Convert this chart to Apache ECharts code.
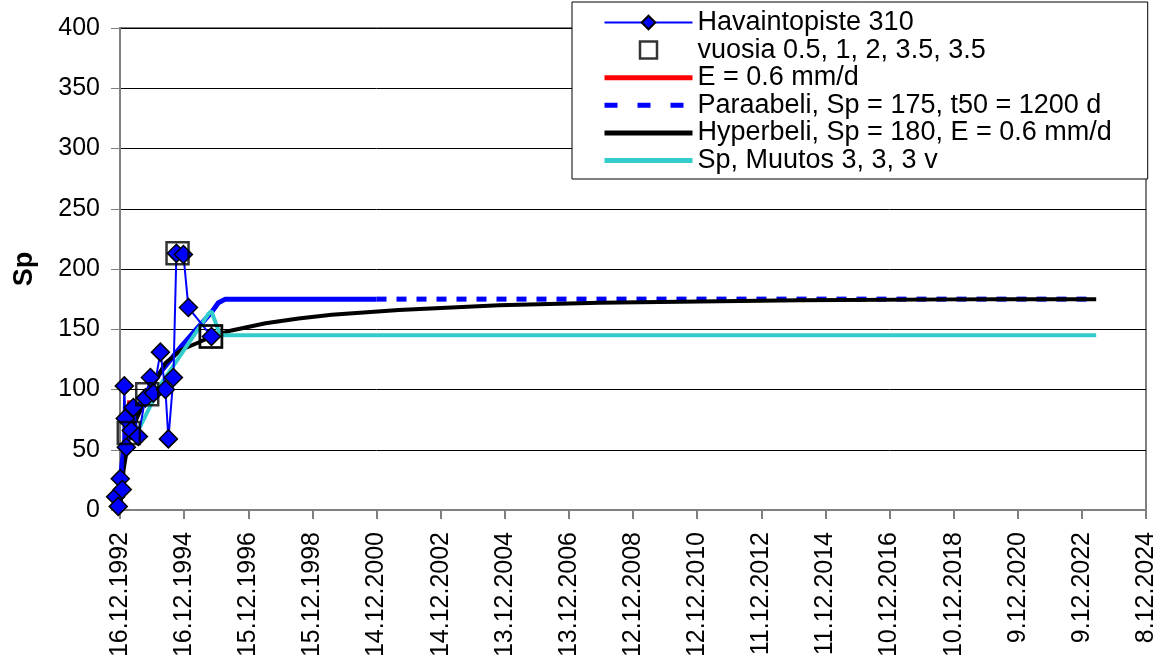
<!DOCTYPE html>
<html>
<head>
<meta charset="utf-8">
<script src="https://cdn.jsdelivr.net/npm/echarts@6/dist/echarts.min.js"></script>
<style>html,body{margin:0;padding:0;background:#fff}#c{width:1160px;height:666px}</style>
</head>
<body>
<div id="c"></div>
<script>
// x values are days after 16.12.1992
var tickLabels = ['16.12.1992','16.12.1994','15.12.1996','15.12.1998','14.12.2000','14.12.2002','13.12.2004','13.12.2006','12.12.2008','12.12.2010','11.12.2012','11.12.2014','10.12.2016','10.12.2018','9.12.2020','9.12.2022','8.12.2024'];
var yTicks = [0,50,100,150,200,250,300,350,400];

var obsDays   = [-50, -20, 3, 26, 49, 60, 72, 129, 152, 209, 289, 346, 380, 460, 517, 551, 608, 642, 722, 779, 1041];
var obsValues = [11, 3, 26, 17, 103, 76, 52, 66, 85, 61, 93, 110, 97, 131, 100, 59, 110, 213, 212, 168, 144];

var sqDays   = [100, 310, 655, 1035, 1035];
var sqValues = [64, 96, 213, 144, 144];

var eDays   = [0, 26, 106];
var eValues = [0, 37, 91];

var parDays   = [0, 10, 50, 130, 300, 500, 700, 893, 1041, 1120, 1200, 2920, 11113];
var parValues = [0, 30, 55, 75, 98, 118, 136, 152, 164, 172, 175, 175, 175];

var hypDays   = [0, 40, 100, 190, 323, 517, 700, 893, 1041, 1270, 1657, 2033, 2410, 3174, 4315, 5456, 7737, 10018, 11113];
var hypValues = [0, 33, 60, 76, 97, 122, 133, 139, 144, 149, 155, 159, 162, 166, 170, 172, 174, 175, 175];

var cyDays   = [180, 472, 1009, 1041, 1140, 11113];
var cyValues = [62, 105, 163, 165, 145, 145];

var dashStart = 2920;

function zip(a, b) { return a.map(function (v, i) { return [v, b[i]]; }); }
var parAll = zip(parDays, parValues);
var parSolid = parAll.filter(function (p) { return p[0] <= dashStart; });
var parDashed = parAll.filter(function (p) { return p[0] >= dashStart; });

var FONT = 'Liberation Sans, Arial, sans-serif';
var NAMES = ['Havaintopiste 310', 'vuosia 0.5, 1, 2, 3.5, 3.5', 'E = 0.6 mm/d', 'Paraabeli, Sp = 175, t50 = 1200 d', 'Hyperbeli, Sp = 180, E = 0.6 mm/d', 'Sp, Muutos 3, 3, 3 v'];
var SQUARE = 'path://M0,0L10,0L10,10L0,10Z';

var chart = echarts.init(document.getElementById('c'), null, {renderer: 'canvas'});
chart.setOption({
  animation: false,
  backgroundColor: '#fff',
  grid: {left: 120, right: 14, top: 28, bottom: 156, show: true, borderColor: '#808080', borderWidth: 2, backgroundColor: 'transparent'},
  xAxis: {
    type: 'value', min: 0, max: 730 * (tickLabels.length - 1), interval: 730,
    axisLine: {show: true, lineStyle: {color: '#808080', width: 2}},
    axisTick: {show: true, length: 9, lineStyle: {color: '#808080', width: 2}},
    splitLine: {show: false},
    axisLabel: {
      rotate: 90, margin: 22, fontSize: 25, fontFamily: FONT, color: '#000',
      showMinLabel: true, showMaxLabel: true,
      formatter: function (v) { return tickLabels[Math.round(v / 730)]; }
    }
  },
  yAxis: {
    type: 'value', min: yTicks[0], max: yTicks[yTicks.length - 1], interval: 50,
    name: 'Sp', nameLocation: 'middle', nameRotate: 90, nameGap: 82,
    nameTextStyle: {fontSize: 27, fontWeight: 'bold', fontFamily: FONT, color: '#000'},
    axisLine: {show: true, lineStyle: {color: '#808080', width: 2}},
    axisTick: {show: true, length: 9, lineStyle: {color: '#808080', width: 1}},
    splitLine: {show: true, lineStyle: {color: '#000', width: 1}},
    axisLabel: {margin: 20, fontSize: 25, fontFamily: FONT, color: '#000'}
  },
  legend: {
    orient: 'vertical', left: 572, top: 2,
    padding: [7, 36, 5, 30],
    itemWidth: 88, itemHeight: 17, itemGap: 0.6,
    symbolKeepAspect: true,
    textStyle: {fontSize: 27, lineHeight: 27, fontFamily: FONT, color: '#000'},
    borderColor: '#000', borderWidth: 1, backgroundColor: '#fff',
    data: [
      {name: NAMES[0], lineStyle: {width: 2}},
      {name: NAMES[1], icon: SQUARE, itemStyle: {color: 'rgba(0,0,0,0)', borderColor: '#000', borderWidth: 2.5}},
      {name: NAMES[2], itemStyle: {opacity: 0}, lineStyle: {width: 5}},
      {name: NAMES[3], itemStyle: {opacity: 0}, lineStyle: {width: 5, type: [13, 20]}},
      {name: NAMES[4], itemStyle: {opacity: 0}, lineStyle: {width: 5}},
      {name: NAMES[5], itemStyle: {opacity: 0}, lineStyle: {width: 5}}
    ]
  },
  series: [
    {name: NAMES[2], type: 'line', data: zip(eDays, eValues), symbol: 'none', z: 2,
     lineStyle: {color: '#FF0000', width: 4}, itemStyle: {color: '#FF0000'}},
    {name: NAMES[3], type: 'line', data: parDashed, symbol: 'none', z: 3,
     lineStyle: {color: '#0000FF', width: 5, type: [10, 10]}, itemStyle: {color: '#0000FF'}},
    {name: 'Paraabeli alku', type: 'line', data: parSolid, symbol: 'none', z: 3,
     lineStyle: {color: '#0000FF', width: 5}, itemStyle: {color: '#0000FF'}},
    {name: NAMES[4], type: 'line', data: zip(hypDays, hypValues), symbol: 'none', z: 4,
     lineStyle: {color: '#000000', width: 4}, itemStyle: {color: '#000000'}},
    {name: NAMES[5], type: 'line', data: zip(cyDays, cyValues), symbol: 'none', z: 5,
     lineStyle: {color: '#33CCCC', width: 4}, itemStyle: {color: '#33CCCC'}},
    {name: NAMES[0], type: 'line', data: zip(obsDays, obsValues), clip: false, z: 6,
     symbol: 'diamond', symbolSize: 18, showSymbol: true,
     lineStyle: {color: '#0000FF', width: 2},
     itemStyle: {color: '#0000FF', borderColor: '#000', borderWidth: 1.5}},
    {name: NAMES[1], type: 'scatter', data: zip(sqDays, sqValues), z: 7,
     symbol: 'rect', symbolSize: 22,
     itemStyle: {color: 'rgba(0,0,0,0)', borderColor: '#000', borderWidth: 2.5}}
  ]
});
</script>
</body>
</html>
